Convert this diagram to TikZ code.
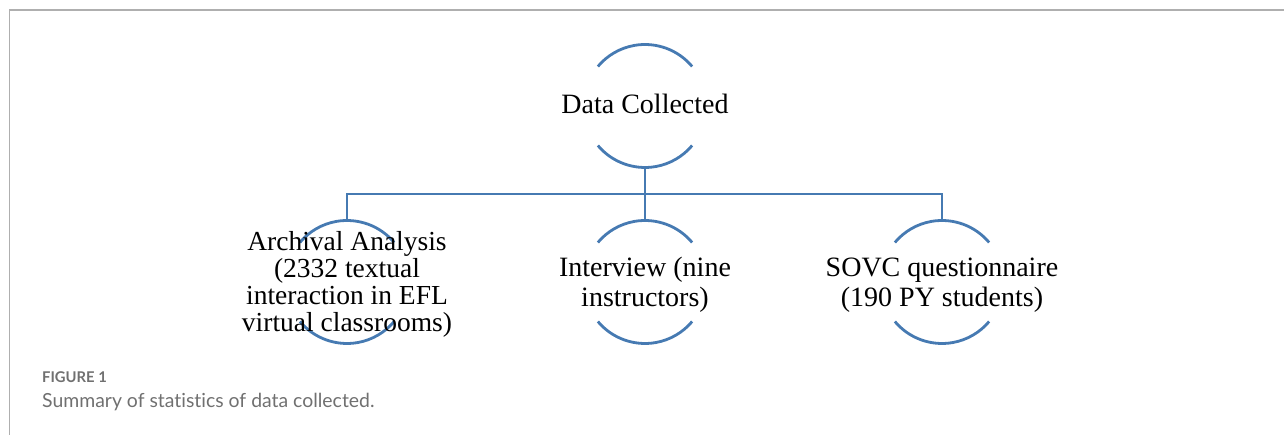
\documentclass[tikz,border=0pt]{standalone}
\usepackage{fontspec}
\setmainfont{Liberation Serif}
\newfontfamily\capfont[Ligatures={NoCommon}]{Lato}
\definecolor{smblue}{RGB}{70,122,178}
\definecolor{framegray}{RGB}{175,175,175}
\definecolor{capgray}{RGB}{112,112,112}
\begin{document}
\begin{tikzpicture}[x=1pt,y=1pt,
  ring/.style={circle,draw=none,minimum size=123pt,inner sep=0pt,outer sep=0pt},
  arcline/.style={draw=smblue,line width=2.8pt},
  conn/.style={draw=smblue,line width=2.8pt},
  lbl/.style={align=center,inner sep=0pt,font=\fontsize{28}{30}\selectfont},
  captitle/.style={anchor=base west,inner sep=0pt,text=capgray,font=\capfont\bfseries\fontsize{14.8}{18}\selectfont},
  captext/.style={anchor=base west,inner sep=0pt,text=capgray,font=\capfont\fontsize{19.4}{22}\selectfont}]
\useasboundingbox (0,0) rectangle (1284,435);
% frame
\draw[framegray,line width=1.5pt] (9.5,0) -- (9.5,425) -- (1284,425);
% ring nodes
\node[ring] (dc) at (645,329) {};
\node[ring] (aa) at (347,153) {};
\node[ring] (iv) at (645,153) {};
\node[ring] (sq) at (942,153) {};
\coordinate (bus) at (645,241);
% arcs
\foreach \n in {dc,aa,iv,sq}{
  \draw[arcline] (\n.40) arc[start angle=40,end angle=140,radius=61.5];
  \draw[arcline] (\n.220) arc[start angle=220,end angle=320,radius=61.5];
}
% connectors
\draw[conn] (dc.south) -- (iv.north);
\draw[conn] (aa.north) -- (aa.north |- bus) -- (sq.north |- bus) -- (sq.north);
% labels
\node[lbl,anchor=base] (dct) at (645,321) {Data Collected};
\node[lbl,font=\fontsize{27.5}{27}\selectfont] (aat) at (347,151) {Archival Analysis\\(2332 textual\\interaction in EFL\\virtual classrooms)};
\node[lbl] (ivt) at (645,150) {Interview (nine\\instructors)};
\node[lbl] (sqt) at (942,150) {SOVC questionnaire\\(190 PY students)};
% caption
\node[captitle] (fig) at (42,52) {FIGURE 1};
\node[captext] (cap) at (42,27) {Summary of statistics of data collected.};
\end{tikzpicture}
\end{document}
